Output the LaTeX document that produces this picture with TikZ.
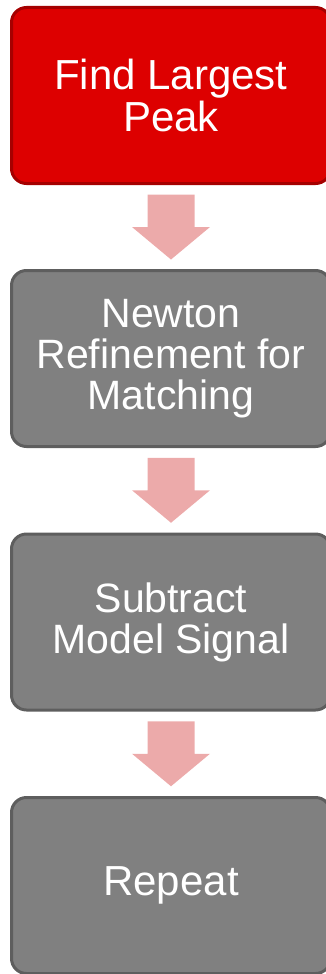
\documentclass[tikz,border=0pt]{standalone}
\usepackage{fontspec}
\setmainfont{Liberation Sans}
\usetikzlibrary{calc}
\definecolor{stepred}{RGB}{221,0,0}
\definecolor{stepredline}{RGB}{165,0,0}
\definecolor{stepgray}{RGB}{128,128,128}
\definecolor{stepgrayline}{RGB}{94,94,94}
\definecolor{flowpink}{RGB}{236,170,170}
\tikzset{
  stepbox/.style={rectangle, rounded corners=15pt, line width=3pt, outer sep=0pt,
    minimum width=319pt, minimum height=176pt, text=white, align=center,
    font=\fontsize{42}{42.5}\selectfont},
  tightbox/.style={font=\fontsize{41}{41}\selectfont},
  activebox/.style={stepbox, fill=stepred, draw=stepredline},
  idlebox/.style={stepbox, fill=stepgray, draw=stepgrayline},
  flowarrow/.style={fill=flowpink}
}
% block arrow centred in the gap between two step boxes
\newcommand{\flowstep}[2]{%
  \fill[flowarrow, shift={($(#1.south)!0.5!(#2.north)$)}]
    (-23.5,32.5) -- (23.5,32.5) -- (23.5,0) -- (39,0) -- (0,-32.5)
    -- (-39,0) -- (-23.5,0) -- cycle;}
\begin{document}
\begin{tikzpicture}[x=1pt,y=1pt]
  \useasboundingbox (0,0) rectangle (326,-974);
  \clip (0,0) rectangle (326,-974);
  \node[activebox] (b1) at (171,-95.5) {Find Largest\\Peak};
  \node[idlebox, tightbox] (b2) at (171,-358.5) {Newton\\Refinement for\\Matching};
  \node[idlebox, tightbox] (b3) at (171,-622) {Subtract\\Model Signal};
  \node[idlebox] (b4) at (171,-885.5) {Repeat};
  \flowstep{b1}{b2}
  \flowstep{b2}{b3}
  \flowstep{b3}{b4}
\end{tikzpicture}
\end{document}
